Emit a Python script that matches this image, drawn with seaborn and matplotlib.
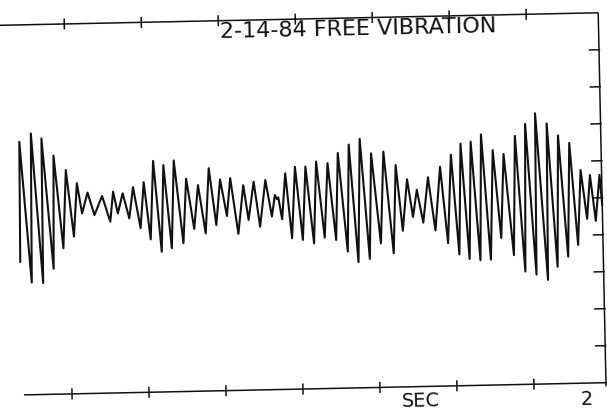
"""
Recreation of a scanned plotter chart: free vibration trace, 2-14-84.
"""

import matplotlib
matplotlib.use("Agg")
import matplotlib.pyplot as plt
import matplotlib.transforms as mtransforms
import pandas as pd
import seaborn as sns

# peaks and troughs of the trace
# time in seconds, amplitude in units of the right-hand ticks
time_s = [
    0.091, 0.096, 0.127, 0.134, 0.164, 0.168, 0.199, 0.206, 0.232, 0.245,
    0.267, 0.280, 0.295, 0.314, 0.335, 0.361, 0.386, 0.397, 0.411, 0.428,
    0.448, 0.462, 0.484, 0.497, 0.516, 0.529, 0.551, 0.562, 0.584, 0.596,
    0.622, 0.635, 0.658, 0.673, 0.695, 0.709, 0.730, 0.745, 0.765, 0.778,
    0.801, 0.820, 0.835, 0.854, 0.872, 0.892, 0.911, 0.922, 0.928, 0.933,
    0.944, 0.957, 0.975, 0.989, 1.010, 1.023, 1.046, 1.058, 1.081, 1.095,
    1.118, 1.129, 1.155, 1.165, 1.189, 1.201, 1.226, 1.237, 1.263, 1.277,
    1.304, 1.316, 1.335, 1.352, 1.369, 1.383, 1.402, 1.420, 1.441, 1.460,
    1.481, 1.496, 1.517, 1.528, 1.550, 1.561, 1.585, 1.595, 1.619, 1.632,
    1.654, 1.667, 1.694, 1.705, 1.730, 1.739, 1.766, 1.772, 1.803, 1.809,
    1.835, 1.845, 1.870, 1.881, 1.903, 1.916, 1.934, 1.946, 1.962, 1.977,
    1.984,
]
amplitude = [
    -1.41, 1.84, -1.97, 2.06, -1.99, 1.92, -1.61, 1.45, -1.06, 1.05,
    -0.75, 0.69, -0.13, 0.43, -0.18, 0.33, -0.37, 0.44, -0.15, 0.39,
    -0.29, 0.55, -0.56, 0.68, -0.87, 1.25, -1.21, 1.13, -1.12, 1.25,
    -0.99, 0.75, -0.61, 0.57, -0.74, 1.02, -0.52, 0.71, -0.28, 0.74,
    -0.77, 0.54, -0.40, 0.63, -0.59, 0.67, -0.32, 0.26, 0.15, 0.19,
    -0.40, 0.84, -0.92, 1.01, -0.97, 1.01, -1.07, 1.14, -0.92, 1.09,
    -0.99, 1.36, -1.31, 1.58, -1.60, 1.73, -1.52, 1.33, -1.11, 1.37,
    -1.38, 1.00, -0.78, 0.61, -0.41, 0.32, -0.57, 0.65, -0.79, 0.93,
    -1.14, 1.25, -1.45, 1.54, -1.58, 1.59, -1.62, 1.78, -1.61, 1.35,
    -1.03, 1.24, -1.50, 1.72, -1.95, 2.04, -2.04, 2.32, -2.19, 2.04,
    -1.84, 1.71, -1.57, 1.50, -1.26, 0.76, -0.56, 0.62, -0.62, 0.62,
    -0.20,
]

x_ticks = [0.25, 0.5, 0.75, 1.0, 1.25, 1.5, 1.75]
y_ticks = [-4, -3, -2, -1, 0, 1, 2, 3, 4]
title = "2-14-84 FREE VIBRATION"
x_label = "SEC"
x_end_label = "2"

sns.set_style("white")
plt.rcParams["font.family"] = ["DejaVu Sans"]

ink = "#111111"

fig = plt.figure(figsize=(6.07, 4.11), dpi=100)
ax = fig.add_axes([-9 / 607, 22 / 411, 616 / 607, 370 / 411])

# the sheet was scanned slightly skewed
tilt = mtransforms.Affine2D().rotate_deg_around(303, 211, 1.2)
tr = ax.transData + tilt

df = pd.DataFrame({"t": time_s, "amp": amplitude})
sns.lineplot(data=df, x="t", y="amp", ax=ax, color=ink, lw=1.5,
             sort=False, estimator=None)
trace = ax.lines[-1]
trace.set_transform(tr)
trace.set_clip_on(False)

right_edge = 1.984

def seg(xs, ys, lw=1.1):
    ax.plot(xs, ys, color=ink, lw=lw, transform=tr, clip_on=False,
            solid_capstyle="butt")

# frame: top line, right side, bottom line
seg([-0.05, right_edge], [5, 5])
seg([right_edge, right_edge], [5, -5.1])
seg([0.094, 2.05], [-5, -5])

for t in x_ticks:
    seg([t, t], [5 - 0.15, 5 + 0.15])
    seg([t, t], [-5 - 0.15, -5 + 0.15])
for v in y_ticks:
    seg([right_edge - 0.033, right_edge + 0.004], [v, v])

ax.text(1.205, 4.70, title, transform=tr, rotation=1.2, ha="center",
        va="center", fontsize=16, color=ink)
ax.text(1.38, -5.4, x_label, transform=tr, rotation=1.2, ha="center",
        va="center", fontsize=14, color=ink)
ax.text(1.92, -5.45, x_end_label, transform=tr, rotation=1.2, ha="center",
        va="center", fontsize=14, color=ink)

ax.set_xlim(0, 2)
ax.set_ylim(-5, 5)
ax.axis("off")

fig.savefig("out.png", dpi=100)
